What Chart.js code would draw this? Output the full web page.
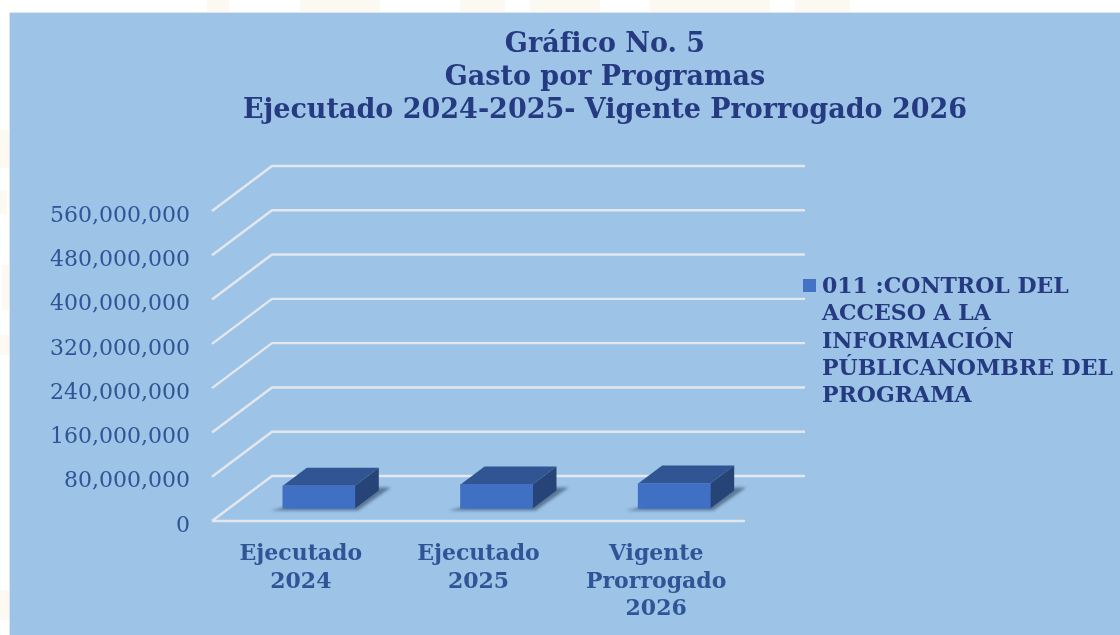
<!DOCTYPE html>
<html lang="es">
<head>
<meta charset="UTF-8" />
<title>Gráfico No. 5</title>
<script src="https://cdn.jsdelivr.net/npm/chart.js"></script>
<style>
  html, body { margin: 0; padding: 0; background: #fff; overflow: hidden; }
  .pagina { position: relative; width: 1120px; height: 635px; overflow: hidden; }
  .fondo b { position: absolute; background: #fcf9f2; }
  .panel { position: absolute; left: 9px; top: 12px; width: 1111px; height: 623px; background: #9dc3e6; border: 1px solid #dfe5ee; border-width: 1px 0 0 1px; box-sizing: border-box; }
  canvas { position: absolute; left: 0; top: 0; }
  .leyenda { position: absolute; left: 803px; top: 272px; width: 317px; color: #253a80; font: bold 22px/27.3px "DejaVu Serif", "Liberation Serif", serif; }
  .leyenda i { position: absolute; left: 0; top: 7px; width: 13px; height: 13px; background: #4472c4; }
  .leyenda span { display: block; margin-left: 19px; white-space: nowrap; }
</style>
</head>
<body>
<div class="pagina">
  <div class="fondo">
    <b style="left:207px;top:0;width:22px;height:12px"></b>
    <b style="left:300px;top:0;width:80px;height:12px"></b>
    <b style="left:460px;top:0;width:45px;height:12px"></b>
    <b style="left:530px;top:0;width:70px;height:12px"></b>
    <b style="left:650px;top:0;width:40px;height:12px"></b>
    <b style="left:690px;top:0;width:80px;height:12px"></b>
    <b style="left:795px;top:0;width:55px;height:12px"></b>
    <b style="left:0;top:130px;width:9px;height:38px"></b>
    <b style="left:0;top:190px;width:7px;height:24px"></b>
    <b style="left:2px;top:265px;width:7px;height:45px"></b>
    <b style="left:0;top:335px;width:9px;height:20px"></b>
    <b style="left:0;top:590px;width:9px;height:30px"></b>
  </div>
  <div class="panel"></div>
  <canvas id="grafico" width="1120" height="635"></canvas>
  <div class="leyenda" id="leyenda"></div>
</div>
<script>
  const titulo = ["Gráfico No. 5", "Gasto por Programas", "Ejecutado 2024-2025- Vigente Prorrogado 2026"];
  const categorias = [["Ejecutado", "2024"], ["Ejecutado", "2025"], ["Vigente", "Prorrogado", "2026"]];
  const valores = [41000000, 43500000, 45000000];
  const marcas = [0, 80000000, 160000000, 240000000, 320000000, 400000000, 480000000, 560000000];
  const serie = ["011 :CONTROL DEL", "ACCESO A LA", "INFORMACIÓN", "PÚBLICANOMBRE DEL", "PROGRAMA"];

  const fuente = '"DejaVu Serif", "Liberation Serif", serif';

  // caja 3D: fondo del suelo y posicion de la barra dentro de el
  const fondo = { x: 60, y: -45 };
  const desplazo = { x: 18, y: -12.5 };
  const caja = { x: 24, y: -18 };

  const poligono = (ctx, puntos, color) => {
    ctx.fillStyle = color;
    ctx.beginPath();
    puntos.forEach((p, i) => i ? ctx.lineTo(p[0], p[1]) : ctx.moveTo(p[0], p[1]));
    ctx.closePath();
    ctx.fill();
  };

  const falso3D = {
    id: 'falso3D',
    afterLayout(chart) {
      // el titulo no va centrado en el lienzo sino un poco a la derecha
      chart.titleBlock.left = 90;
      chart.titleBlock.right = 1120;
    },
    beforeDatasetsDraw(chart) {
      const { ctx, chartArea: area, scales: { y } } = chart;
      ctx.save();
      ctx.strokeStyle = '#e4e8ee';
      ctx.lineWidth = 2.4;
      ctx.beginPath();
      marcas.forEach(v => {
        const py = y.getPixelForValue(v);
        ctx.moveTo(area.left, py);
        ctx.lineTo(area.left + fondo.x, py + fondo.y);
        ctx.lineTo(area.right + fondo.x, py + fondo.y);
      });
      ctx.moveTo(area.left, area.bottom);
      ctx.lineTo(area.right, area.bottom);
      ctx.stroke();

      // sombra y caras de atras de cada barra
      chart.getDatasetMeta(0).data.forEach(b => {
        const l = b.x - b.width / 2 + desplazo.x, r = b.x + b.width / 2 + desplazo.x;
        const t = b.y + desplazo.y, base = b.base + desplazo.y;
        ctx.save();
        ctx.filter = 'blur(1.5px)';
        poligono(ctx, [[l - 12, base + 2], [r + 3, base + 2], [r + caja.x + 12, base + caja.y - 3], [r + caja.x - 8, base + caja.y - 3]], '#5a7896');
        ctx.restore();
        poligono(ctx, [[l, t], [l + caja.x, t + caja.y], [r + caja.x, t + caja.y], [r, t]], '#315592');
        poligono(ctx, [[r, t], [r + caja.x, t + caja.y], [r + caja.x, base + caja.y], [r, base]], '#264478');
      });
      ctx.restore();

      ctx.save();
      ctx.translate(desplazo.x, desplazo.y);
    },
    afterDatasetsDraw(chart) {
      chart.ctx.restore();
    }
  };

  new Chart(document.getElementById('grafico'), {
    type: 'bar',
    data: {
      labels: categorias,
      datasets: [{
        label: serie.join(' '),
        data: valores,
        backgroundColor: '#4070c4',
        barThickness: 72,
        clip: false
      }]
    },
    options: {
      responsive: false,
      animation: false,
      layout: { padding: { right: 375 } },
      plugins: {
        legend: { display: false },
        tooltip: { enabled: false },
        title: {
          display: true,
          text: titulo,
          color: '#253a80',
          font: { family: fuente, size: 27, weight: 'bold', lineHeight: 33 / 27 },
          padding: { top: 28, bottom: 84 }
        }
      },
      scales: {
        x: {
          grid: { display: false },
          border: { display: false },
          afterFit(s) { s.height = 114; },
          ticks: {
            color: '#2f5597',
            padding: 12,
            maxRotation: 0,
            autoSkip: false,
            font: { family: fuente, size: 22, weight: 'bold', lineHeight: 27.5 / 22 }
          }
        },
        y: {
          min: 0,
          max: 560000000,
          grid: { display: false },
          border: { display: false },
          afterFit(s) { s.width = 212; },
          afterBuildTicks(s) { s.ticks = marcas.map(v => ({ value: v })); },
          ticks: {
            color: '#2f5597',
            padding: 14,
            labelOffset: 5,
            font: { family: fuente, size: 22 },
            callback: v => v.toLocaleString('en-US')
          }
        }
      }
    },
    plugins: [falso3D]
  });

  const leyenda = document.getElementById('leyenda');
  leyenda.innerHTML = '<i></i><span>' + serie.join('<br>') + '</span>';
</script>
</body>
</html>
